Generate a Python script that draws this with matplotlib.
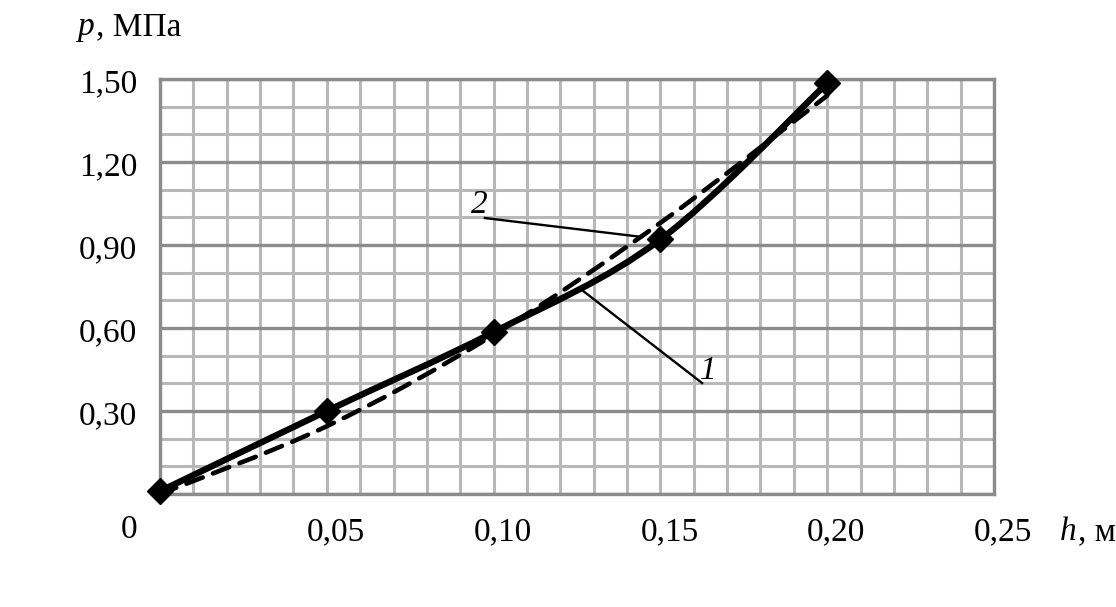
import numpy as np
import matplotlib
matplotlib.use('Agg')
import matplotlib.pyplot as plt
from matplotlib.path import Path
from matplotlib.patches import PathPatch
from matplotlib.transforms import blended_transform_factory, ScaledTranslation

plt.rcParams['font.family'] = ['Liberation Serif', 'DejaVu Serif']

# data
h = [0.0, 0.05, 0.10, 0.15, 0.20]
p_curve1 = [0.01, 0.30, 0.585, 0.92, 1.485]
p_curve2 = [0.0, 0.245, 0.575, 0.98, 1.44]
x_tick_vals = [0.05, 0.10, 0.15, 0.20, 0.25]
x_tick_text = ['0,05', '0,10', '0,15', '0,20', '0,25']
y_tick_vals = [0.30, 0.60, 0.90, 1.20, 1.50]
y_tick_text = ['0,30', '0,60', '0,90', '1,20', '1,50']

FS = 24
GRID_LIGHT = '#b8b8b8'
GRID_DARK = '#8c8c8c'


def smooth_path(x, y):
    # Bezier path through the points (like Excel's smoothed line)
    pts = np.column_stack([x, y])
    n = len(pts)
    verts = [pts[0]]
    codes = [Path.MOVETO]
    for i in range(n - 1):
        p0 = pts[max(i - 1, 0)]
        p1 = pts[i]
        p2 = pts[i + 1]
        p3 = pts[min(i + 2, n - 1)]
        c1 = p1 + (p2 - p0) / 6.0
        c2 = p2 - (p3 - p1) / 6.0
        verts += [c1, c2, p2]
        codes += [Path.CURVE4] * 3
    return Path(verts, codes)


fig = plt.figure(figsize=(11.16, 6.07), dpi=100)
ax = fig.add_axes([160 / 1116, 1 - 494 / 607, 834 / 1116, 415 / 607])
ax.set_xlim(0, 0.25)
ax.set_ylim(0, 1.5)

ax.set_xticks(np.arange(0, 0.2501, 0.01))
ax.set_yticks(np.arange(0, 1.5001, 0.3))
ax.set_yticks(np.arange(0, 1.5001, 0.1), minor=True)
ax.tick_params(which='both', length=0, labelbottom=False, labelleft=False)
ax.grid(axis='x', which='major', color=GRID_LIGHT, lw=2.2)
ax.grid(axis='y', which='minor', color=GRID_LIGHT, lw=2.2)
ax.grid(axis='y', which='major', color=GRID_DARK, lw=2.4)
ax.set_axisbelow(True)
for s in ax.spines.values():
    s.set_color(GRID_DARK)
    s.set_linewidth(2.4)

# curve 2 (dashed)
ax.add_patch(PathPatch(smooth_path(h, p_curve2), fill=False, color='black',
                       lw=3.3, ls=(0, (3.8, 2.4)), clip_on=False, zorder=3,
                       capstyle='round'))
# curve 1 (solid with diamonds)
ax.add_patch(PathPatch(smooth_path(h, p_curve1), fill=False, color='black',
                       lw=4.6, clip_on=False, zorder=4, capstyle='round'))
ax.plot(h, p_curve1, ls='none', marker='D', ms=13, color='black',
        clip_on=False, zorder=5)

# leader lines and curve numbers
ax.plot([0.0974, 0.1445], [0.9975, 0.929], color='black', lw=1.7, zorder=6)
ax.plot([0.1265, 0.1625], [0.737, 0.401], color='black', lw=1.7, zorder=6)
ax.text(0.0956, 1.044, '2', fontsize=FS, style='italic', ha='center', va='center')
ax.text(0.1643, 0.4445, '1', fontsize=FS, style='italic', ha='center', va='center')

# tick labels
tx = blended_transform_factory(ax.transData, fig.transFigure)
shift = ScaledTranslation(0.09, 0, fig.dpi_scale_trans)
for v, t in zip(x_tick_vals, x_tick_text):
    fig.text(v, 1 - 540 / 607, t, fontsize=FS, ha='center', va='baseline',
             transform=tx + shift)
ty = blended_transform_factory(fig.transFigure, ax.transData)
down = ScaledTranslation(0, -0.135, fig.dpi_scale_trans)
for v, t in zip(y_tick_vals, y_tick_text):
    fig.text(137 / 1116, v, t, fontsize=FS, ha='right', va='baseline',
             transform=ty + down)
fig.text(129 / 1116, 1 - 538 / 607, '0', fontsize=FS, ha='center', va='baseline')

# axis titles
fig.text(78 / 1116, 1 - 35 / 607, 'p', fontsize=FS, style='italic', va='baseline')
fig.text(96 / 1116, 1 - 35 / 607, ', МПа', fontsize=FS, va='baseline')
fig.text(1060 / 1116, 1 - 540 / 607, 'h', fontsize=FS, style='italic', va='baseline')
fig.text(1078 / 1116, 1 - 540 / 607, ', м', fontsize=FS, va='baseline')

fig.savefig('out.png', dpi=100, facecolor='white')
